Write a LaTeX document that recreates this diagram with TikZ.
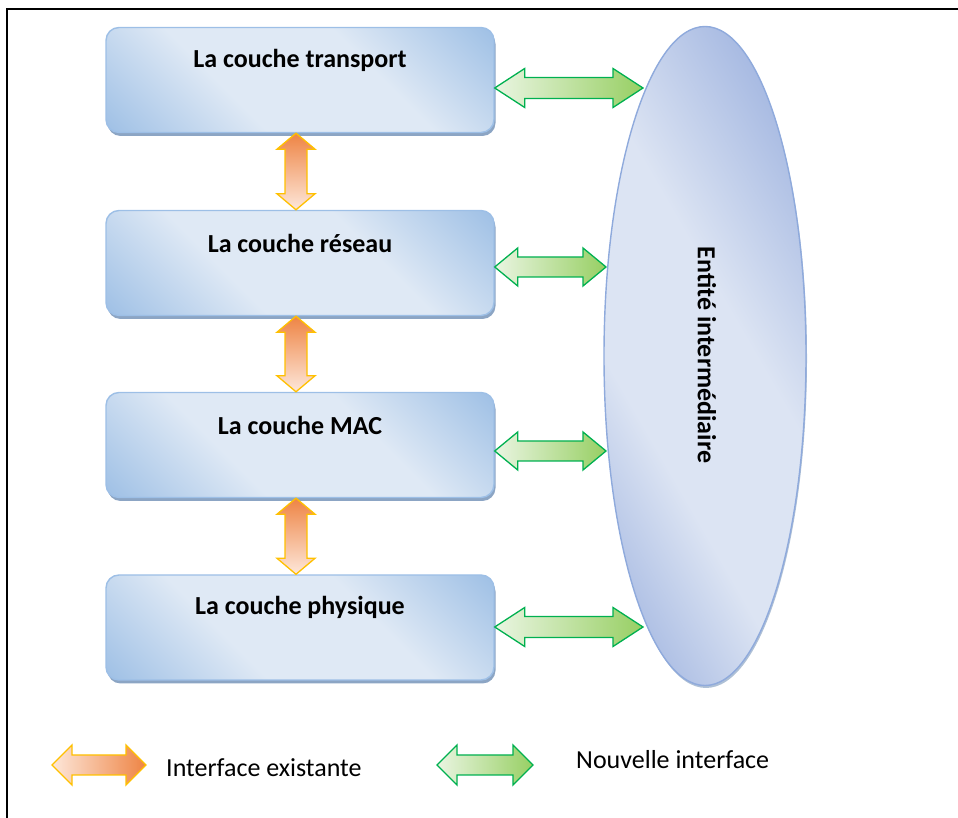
\documentclass[tikz,border=0pt]{standalone}
\usepackage{fontspec}
\setmainfont{Carlito}
\usetikzlibrary{shapes.geometric,shadows,calc}

\definecolor{boxline}{HTML}{9DBFE6}
\definecolor{boxdark}{HTML}{A2C2E6}
\definecolor{boxlight}{HTML}{DFE9F5}
\definecolor{boxshade}{HTML}{8CA5C4}
\definecolor{ellline}{HTML}{8FAADC}
\definecolor{elldark}{HTML}{A1B5E0}
\definecolor{elllight}{HTML}{DCE4F3}
\definecolor{grline}{HTML}{00B050}
\definecolor{grlight}{HTML}{EAF5E2}
\definecolor{grdark}{HTML}{97CF63}
\definecolor{orline}{HTML}{FFC000}
\definecolor{orlight}{HTML}{FDE7DA}
\definecolor{ordark}{HTML}{EE8444}

% diagonal band shadings
\pgfdeclarehorizontalshading{layershade}{100bp}{color(0bp)=(boxdark); color(16bp)=(boxdark);
  color(38bp)=(boxlight); color(62bp)=(boxlight); color(84bp)=(boxdark); color(100bp)=(boxdark)}
\pgfdeclarehorizontalshading{entityshade}{100bp}{color(0bp)=(elldark); color(20bp)=(elldark);
  color(38bp)=(elllight); color(56bp)=(elllight); color(78bp)=(elldark); color(100bp)=(elldark)}

% horizontal double arrow: style, left tip, right tip, head length, head half width, shaft half width
\newcommand{\dblarrowh}[6]{%
  \path[#1] let \p1=(#2), \p2=(#3) in
    (\x1,\y1) -- (\x1+#4,\y1+#5) -- (\x1+#4,\y1+#6) -- (\x2-#4,\y1+#6) -- (\x2-#4,\y1+#5)
    -- (\x2,\y1) -- (\x2-#4,\y1-#5) -- (\x2-#4,\y1-#6) -- (\x1+#4,\y1-#6) -- (\x1+#4,\y1-#5) -- cycle;}
% vertical double arrow: style, top tip, bottom tip, head length, head half width, shaft half width
\newcommand{\dblarrowv}[6]{%
  \path[#1] let \p1=(#2), \p2=(#3) in
    (\x1,\y1) -- (\x1+#5,\y1-#4) -- (\x1+#6,\y1-#4) -- (\x1+#6,\y2+#4) -- (\x1+#5,\y2+#4)
    -- (\x1,\y2) -- (\x1-#5,\y2+#4) -- (\x1-#6,\y2+#4) -- (\x1-#6,\y1-#4) -- (\x1-#5,\y1-#4) -- cycle;}

\begin{document}
\begin{tikzpicture}[x=1pt,y=1pt,
  layerbox/.style={draw=boxline, line width=1.4pt, rounded corners=13pt,
    minimum width=388pt, minimum height=105pt, inner sep=0pt,
    shading=layershade, shading angle=45,
    drop shadow={shadow xshift=1.5pt, shadow yshift=-3.5pt, fill=boxshade, opacity=1}},
  layertext/.style={font=\bfseries\fontsize{26}{30}\selectfont, inner sep=0pt},
  entity/.style={ellipse, draw=ellline, line width=1.4pt, minimum width=202pt,
    minimum height=659pt, inner sep=0pt,
    shading=entityshade, shading angle=30,
    drop shadow={shadow xshift=1pt, shadow yshift=-2.5pt, fill=boxshade, opacity=0.7}},
  newif/.style={draw=grline, line width=1.3pt, left color=grlight, right color=grdark},
  oldifv/.style={draw=orline, line width=1.3pt, top color=ordark, bottom color=orlight},
  oldifh/.style={draw=orline, line width=1.3pt, left color=orlight, right color=ordark},
  legendtext/.style={font=\fontsize{26}{30}\selectfont, inner sep=0pt, anchor=west}]

  \useasboundingbox (0,0) rectangle (958,818);

  % frame
  \draw[line width=1.6pt] (7,0) -- (7,809) -- (958,809);

  % protocol layers
  \node[layerbox] (t) at (300,738) {};
  \node[layerbox] (r) at (300,555) {};
  \node[layerbox] (m) at (300,373) {};
  \node[layerbox] (p) at (300,190.5) {};
  \node[layertext] (tl) at ([yshift=20pt]t.center) {La couche transport};
  \node[layertext] (rl) at ([yshift=20pt]r.center) {La couche réseau};
  \node[layertext] (ml) at ([yshift=20pt]m.center) {La couche MAC};
  \node[layertext] (pl) at ([yshift=20pt]p.center) {La couche physique};

  % intermediate entity
  \node[entity] (e) at (705,462) {};
  \node[layertext, rotate=-90] (el) at (707,463) {Entité intermédiaire};

  % existing interfaces between layers
  \dblarrowv{oldifv}{[xshift=-4pt]t.south}{[xshift=-4pt]r.north}{16pt}{19pt}{11pt}
  \dblarrowv{oldifv}{[xshift=-4pt]r.south}{[xshift=-4pt]m.north}{16pt}{19pt}{11pt}
  \dblarrowv{oldifv}{[xshift=-4pt]m.south}{[xshift=-4pt]p.north}{16pt}{19pt}{11pt}

  % new interfaces towards the entity
  \coordinate (g1) at (643,730);
  \coordinate (g2) at (606,551);
  \coordinate (g3) at (606,367);
  \coordinate (g4) at (643,191);
  \dblarrowh{newif}{g1 -| t.east}{g1}{30pt}{19.5pt}{10.5pt}
  \dblarrowh{newif}{g2 -| r.east}{g2}{23pt}{19pt}{10pt}
  \dblarrowh{newif}{g3 -| m.east}{g3}{23pt}{19pt}{10pt}
  \dblarrowh{newif}{g4 -| p.east}{g4}{30pt}{19.5pt}{10.5pt}

  % legend
  \coordinate (la) at (52,53);
  \coordinate (lb) at (146,53);
  \coordinate (lc) at (437,53);
  \coordinate (ld) at (533,53);
  \dblarrowh{oldifh}{la}{lb}{20pt}{20pt}{10pt}
  \dblarrowh{newif}{lc}{ld}{20pt}{20pt}{10pt}
  \node[legendtext] (lt1) at (166,50) {Interface existante};
  \node[legendtext] (lt2) at (576,58) {Nouvelle interface};
\end{tikzpicture}
\end{document}
